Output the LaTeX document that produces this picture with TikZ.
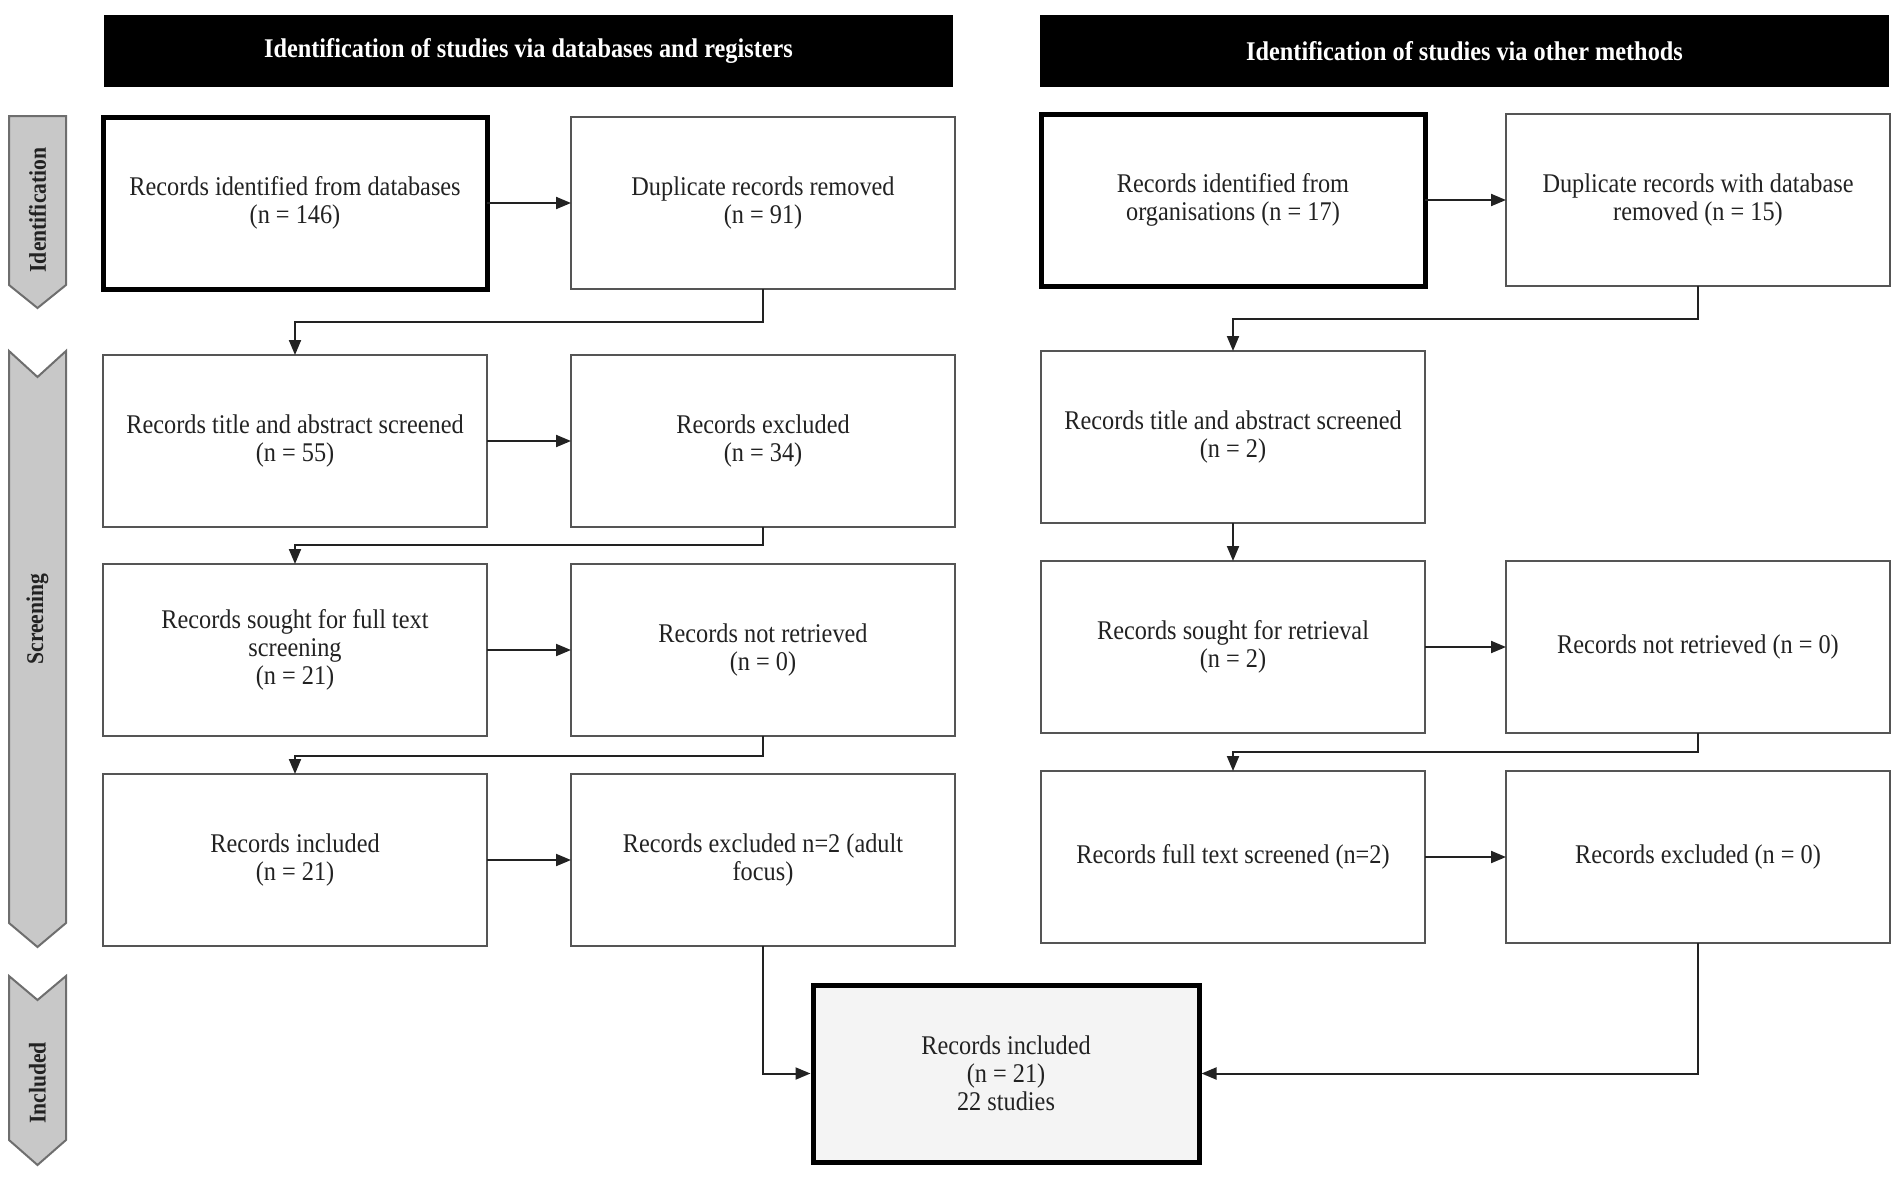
\documentclass[tikz,border=0pt]{standalone}
\usepackage{fontspec}
\setmainfont{Liberation Serif}[FakeStretch=0.9]
\usetikzlibrary{arrows.meta}
\definecolor{txt}{HTML}{222222}
\definecolor{edgegray}{HTML}{555555}
\definecolor{ribfill}{HTML}{C8C8C8}
\definecolor{ribedge}{HTML}{6E6E6E}
\definecolor{finalfill}{HTML}{F4F4F4}
\tikzset{
  box/.style={draw=edgegray, line width=2pt, fill=white, align=center, text=txt,
    font=\fontsize{27}{28}\selectfont, inner sep=0pt, outer sep=0pt, anchor=north west,
    minimum width=384pt, minimum height=172pt},
  thickbox/.style={box, draw=black, line width=5pt},
  header/.style={fill=black, text=white, font=\bfseries\fontsize{27}{30}\selectfont,
    inner sep=0pt, outer sep=0pt, anchor=north west, minimum width=849pt, minimum height=72pt},
  conn/.style={draw=txt, line width=2pt, -{Triangle[length=15pt,width=12pt]}},
  ribbon/.style={draw=ribedge, fill=ribfill, line width=2pt, line join=miter},
  ribtext/.style={text=txt, font=\bfseries\fontsize{24}{26}\selectfont, rotate=90}
}
\begin{document}
\begin{tikzpicture}[x=1pt,y=-1pt]
\useasboundingbox (0,0) rectangle (1902,1178);
% headers
\node[header] (h1) at (104,15) {Identification of studies via databases and registers};
\node[header] (h2) at (1040,15) {Identification of studies via other methods};
% ribbons
\draw[ribbon] (9,116) -- (66,116) -- (66,285) -- (37.5,308) -- (9,285) -- cycle;
\draw[ribbon] (9,351) -- (37.5,377) -- (66,351) -- (66,923) -- (37.5,947) -- (9,923) -- cycle;
\draw[ribbon] (9,976) -- (37.5,1000) -- (66,976) -- (66,1140) -- (37.5,1165) -- (9,1140) -- cycle;
\node[ribtext] (lid) at (37.5,210) {Identification};
\node[ribtext] (lsc) at (37.5,619) {Screening};
\node[ribtext] (lin) at (37.5,1083) {Included};
% left column
\node[thickbox] (a1) at (103,117) {Records identified from databases\\(n = 146)};
\node[box] (b1) at (571,117) {Duplicate records removed\\(n = 91)};
\node[box] (a2) at (103,355) {Records title and abstract screened\\(n = 55)};
\node[box] (b2) at (571,355) {Records excluded\\(n = 34)};
\node[box] (a3) at (103,564) {Records sought for full text\\screening\\(n = 21)};
\node[box] (b3) at (571,564) {Records not retrieved\\(n = 0)};
\node[box] (a4) at (103,774) {Records included\\(n = 21)};
\node[box] (b4) at (571,774) {Records excluded n=2 (adult\\focus)};
% right column
\node[thickbox] (c1) at (1041,114) {Records identified from\\organisations (n = 17)};
\node[box] (d1) at (1506,114) {Duplicate records with database\\removed (n = 15)};
\node[box] (c2) at (1041,351) {Records title and abstract screened\\(n = 2)};
\node[box] (c3) at (1041,561) {Records sought for retrieval\\(n = 2)};
\node[box] (d3) at (1506,561) {Records not retrieved (n = 0)};
\node[box] (c4) at (1041,771) {Records full text screened (n=2)};
\node[box] (d4) at (1506,771) {Records excluded (n = 0)};
% final
\node[thickbox, fill=finalfill, minimum width=386pt, minimum height=177pt] (f) at (813,985)
  {Records included\\(n = 21)\\22 studies};
% connectors
\draw[conn] (a1.east) -- (b1.west);
\draw[conn] (b1.south) -- ++(0,33) -| (a2.north);
\draw[conn] (a2.east) -- (b2.west);
\draw[conn] (b2.south) -- ++(0,18) -| (a3.north);
\draw[conn] (a3.east) -- (b3.west);
\draw[conn] (b3.south) -- ++(0,20) -| (a4.north);
\draw[conn] (a4.east) -- (b4.west);
\draw[conn, shorten >=2.5pt] (b4.south) |- (f.west);
\draw[conn] (c1.east) -- (d1.west);
\draw[conn] (d1.south) -- ++(0,33) -| (c2.north);
\draw[conn] (c2.south) -- (c3.north);
\draw[conn] (c3.east) -- (d3.west);
\draw[conn] (d3.south) -- ++(0,19) -| (c4.north);
\draw[conn] (c4.east) -- (d4.west);
\draw[conn, shorten >=2.5pt] (d4.south) |- (f.east);
\end{tikzpicture}
\end{document}
